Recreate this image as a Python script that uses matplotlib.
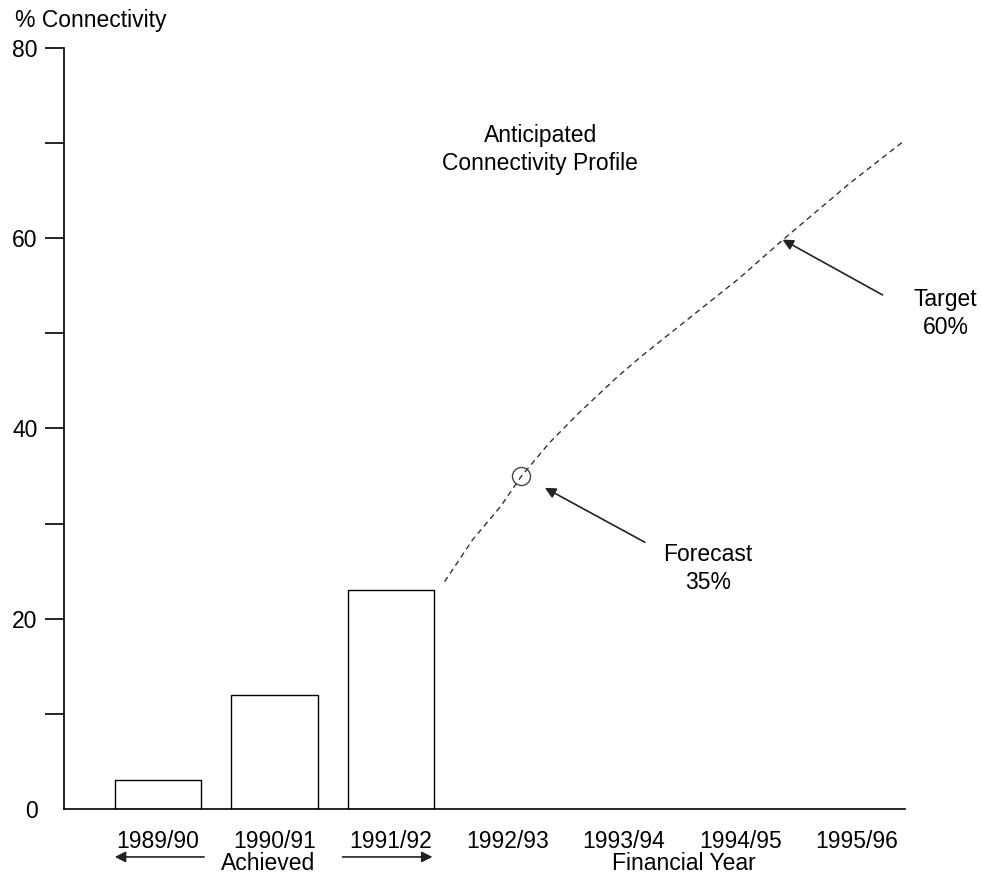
import matplotlib.pyplot as plt

plt.rcParams['font.family'] = ['Liberation Sans', 'DejaVu Sans']

years = ["1989/90", "1990/91", "1991/92", "1992/93", "1993/94", "1994/95", "1995/96"]
achieved = [3, 12, 23]

# anticipated connectivity profile
profile_x = [2.46, 2.70, 2.94, 3.12, 3.36, 3.61, 3.94, 4.16, 4.57, 4.99, 5.36, 5.94, 6.39]
profile_y = [23.9, 28.3, 31.8, 35.0, 38.5, 41.6, 45.4, 47.7, 51.7, 55.8, 59.8, 65.8, 70.1]

forecast = (3.12, 35)
target = (5.34, 60)

FS = 16.5

fig = plt.figure(figsize=(9.82, 8.73), dpi=100)
ax = fig.add_axes([64 / 982, 64 / 873, 841 / 982, 761 / 873])

ax.bar(range(len(achieved)), achieved, width=0.74, facecolor='white',
       edgecolor='black', linewidth=1.0)

ax.plot(profile_x, profile_y, linestyle=(0, (4, 3)), color='#333333', linewidth=1.0)
ax.plot(*forecast, marker='o', markersize=13, markerfacecolor='none',
        markeredgecolor='#444444', markeredgewidth=1.0)

ax.set_xlim(-0.807, 6.412)
ax.set_ylim(0, 80)
ax.set_xticks(range(len(years)))
ax.set_xticklabels(years, fontsize=FS)
ax.tick_params(axis='x', length=0, pad=15)
ax.set_yticks(range(0, 81, 10))
ax.set_yticklabels([str(v) if v % 20 == 0 else "" for v in range(0, 81, 10)], fontsize=FS)
ax.tick_params(axis='y', length=14, width=1.2, pad=5)
ax.yaxis.get_major_ticks()[0].tick1line.set_visible(False)

for side in ['top', 'right']:
    ax.spines[side].set_visible(False)
for side in ['left', 'bottom']:
    ax.spines[side].set_linewidth(1.2)

arrow = dict(arrowstyle='-|>', color='#222222', lw=1.2, mutation_scale=16)

ax.annotate('', xy=(3.30, 33.9), xytext=(4.20, 27.9), arrowprops=arrow)
ax.text(4.72, 25.3, "Forecast\n35%", ha='center', va='center', fontsize=FS, linespacing=1.3)

ax.annotate('', xy=target, xytext=(6.24, 53.9), arrowprops=arrow)
ax.text(6.76, 52.1, "Target\n60%", ha='center', va='center', fontsize=FS,
        linespacing=1.3, clip_on=False)

ax.text(3.28, 69.3, "Anticipated\nConnectivity Profile", ha='center', va='center',
        fontsize=FS, linespacing=1.3)

fig.text(15 / 982, 1 - 21 / 873, "% Connectivity", ha='left', va='center', fontsize=FS)

# bottom annotations under the year labels
tr = ax.get_xaxis_transform()
ax.annotate('', xy=(-0.395, -0.063), xytext=(0.42, -0.063), xycoords=tr,
            textcoords=tr, arrowprops=arrow, annotation_clip=False)
ax.annotate('', xy=(2.38, -0.063), xytext=(1.56, -0.063), xycoords=tr,
            textcoords=tr, arrowprops=arrow, annotation_clip=False)
ax.text(0.944, -0.071, "Achieved", transform=tr, ha='center', va='center', fontsize=FS)
ax.text(4.51, -0.071, "Financial Year", transform=tr, ha='center', va='center', fontsize=FS)

fig.savefig("out.png", dpi=100)
